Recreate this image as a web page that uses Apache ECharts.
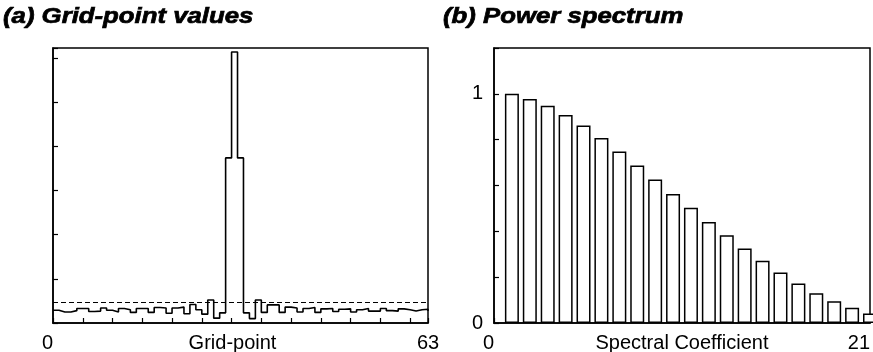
<!DOCTYPE html>
<html>
<head>
<meta charset="UTF-8">
<title>Grid-point values / Power spectrum</title>
<script src="https://cdn.jsdelivr.net/npm/echarts@6/dist/echarts.min.js"></script>
<style>
  html, body { margin: 0; padding: 0; background: #fff; }
  #main { width: 873px; height: 352px; }
</style>
</head>
<body>
<div id="main"></div>
<script type="text/javascript">
// (a) grid-point values (index 0..63)
var gridValues = [
  0.29, 0.25, 0.25, 0.28, 0.33, 0.33, 0.26, 0.27, 0.34, 0.29,
  0.25, 0.33, 0.30, 0.24, 0.33, 0.33, 0.24, 0.35, 0.34, 0.22,
  0.34, 0.36, 0.21, 0.42, 0.30, 0.20, 0.52, 0.11, 0.23, 3.74,
  6.14, 3.74, 0.23, 0.10, 0.52, 0.24, 0.41, 0.41, 0.24, 0.36,
  0.34, 0.25, 0.33, 0.35, 0.24, 0.32, 0.33, 0.26, 0.31, 0.32,
  0.25, 0.30, 0.33, 0.27, 0.27, 0.33, 0.28, 0.27, 0.32, 0.30,
  0.27, 0.30, 0.31, 0.27
];
var dashedLevel = 0.475;

// (b) power spectrum, coefficients 1..21
var coefficients = [1, 2, 3, 4, 5, 6, 7, 8, 9, 10, 11, 12, 13, 14, 15, 16, 17, 18, 19, 20, 21];
var power = [
  1.000, 0.978, 0.948, 0.908, 0.862, 0.807, 0.748, 0.687, 0.626, 0.563,
  0.503, 0.441, 0.383, 0.325, 0.272, 0.220, 0.172, 0.130, 0.095, 0.067, 0.042
];

var gridLabels = [0, 63];
var specLabels = [0, 21];
var powerLabels = [0, 1];

var fontFamily = '"Liberation Sans", Arial, Helvetica, sans-serif';

function pickLabel(list) {
  return function (v) {
    for (var i = 0; i < list.length; i++) {
      if (Math.abs(v - list[i]) < 1e-6) return String(list[i]);
    }
    return '';
  };
}

var chart = echarts.init(document.getElementById('main'));

var axisLine = { show: true, lineStyle: { color: '#000', width: 1.5 } };
var tick = { show: true, inside: true, length: 5, lineStyle: { color: '#000', width: 1.2 } };

chart.setOption({
  animation: false,
  backgroundColor: '#fff',
  textStyle: { fontFamily: fontFamily, color: '#000' },
  graphic: [
    {
      type: 'text', x: 3, y: 6, scaleX: 1.17,
      style: { text: '(a) Grid-point values', font: 'italic bold 22px ' + fontFamily, fill: '#000',
               stroke: '#000', lineWidth: 0.7, textVerticalAlign: 'top' }
    },
    {
      type: 'text', x: 443, y: 6, scaleX: 1.17,
      style: { text: '(b) Power spectrum', font: 'italic bold 22px ' + fontFamily, fill: '#000',
               stroke: '#000', lineWidth: 0.7, textVerticalAlign: 'top' }
    }
  ],
  grid: [
    { left: 53, right: 445, top: 48, bottom: 29, show: true, borderColor: '#000', borderWidth: 1.5, outerBoundsMode: 'none', containLabel: false },
    { left: 494, right: 3, top: 48, bottom: 29, show: true, borderColor: '#000', borderWidth: 1.5, outerBoundsMode: 'none', containLabel: false }
  ],
  xAxis: [
    {
      gridIndex: 0, type: 'value', min: 0, max: 63, interval: 5,
      axisLine: axisLine, axisTick: tick, splitLine: { show: false },
      axisLabel: { formatter: pickLabel(gridLabels), fontSize: 20, color: '#000', margin: 10, alignMinLabel: 'right' },
      name: 'Grid-point', nameLocation: 'middle', nameGap: 10, nameMoveOverlap: false,
      nameTextStyle: { fontSize: 20, color: '#000', padding: [0, 16, 0, 0] }
    },
    {
      gridIndex: 1, type: 'value', min: 0, max: 21, interval: 2,
      axisLine: axisLine, axisTick: tick, splitLine: { show: false },
      axisLabel: { formatter: pickLabel(specLabels), fontSize: 20, color: '#000', margin: 10, alignMinLabel: 'right', alignMaxLabel: 'right' },
      name: 'Spectral Coefficient', nameLocation: 'middle', nameGap: 10, nameMoveOverlap: false,
      nameTextStyle: { fontSize: 20, color: '#000' }
    }
  ],
  yAxis: [
    {
      gridIndex: 0, type: 'value', min: 0, max: 6.23, interval: 1,
      axisLine: axisLine, axisTick: tick, splitLine: { show: false },
      axisLabel: { show: false }
    },
    {
      gridIndex: 1, type: 'value', min: 0, max: 1.2, interval: 0.2,
      axisLine: axisLine, axisTick: tick, splitLine: { show: false },
      axisLabel: { formatter: pickLabel(powerLabels), fontSize: 20, color: '#000', margin: 11 }
    }
  ],
  series: [
    {
      type: 'line', xAxisIndex: 0, yAxisIndex: 0, step: 'end',
      showSymbol: false, silent: true,
      lineStyle: { color: '#000', width: 1.6 },
      data: gridValues.map(function (v, i) { return [i, v]; }),
      markLine: {
        silent: true, symbol: 'none', label: { show: false },
        lineStyle: { color: '#000', width: 1.2, type: [5, 3] },
        data: [{ yAxis: dashedLevel }]
      }
    },
    {
      type: 'bar', xAxisIndex: 1, yAxisIndex: 1, barWidth: 14, silent: true,
      itemStyle: { color: '#fff', borderColor: '#000', borderWidth: 1.5 },
      data: coefficients.map(function (c, i) { return [c, power[i]]; })
    }
  ]
});
</script>
</body>
</html>
